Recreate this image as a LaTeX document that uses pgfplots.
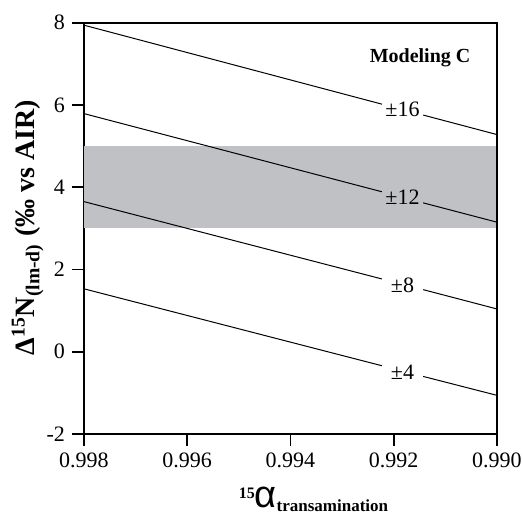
\documentclass[border=0pt]{standalone}
\usepackage{fontspec}
\setmainfont{Liberation Serif}
\newfontfamily\sansgreek{Liberation Sans}
\usepackage{pgfplots}
\pgfplotsset{compat=1.18}
\definecolor{band}{RGB}{192,193,196}
\begin{document}
\begin{tikzpicture}
\path[use as bounding box] (-42pt,-40.5pt) rectangle (219.5pt,217pt);
\begin{axis}[
  scale only axis, width=206.5pt, height=205.65pt,
  x dir=reverse, xmin=0.990, xmax=0.998, ymin=-2, ymax=8,
  xtick={0.990,0.992,0.994,0.996,0.998},
  xticklabels={0.990,0.992,0.994,0.996,0.998},
  ytick={-2,0,2,4,6,8}, yticklabels={-2,0,2,4,6,8},
  tick align=outside, major tick length=6pt,
  xtick pos=left, ytick pos=left,
  tick style={line width=0.9pt, black},
  axis line style={line width=0.9pt},
  ticklabel style={font=\fontsize{11}{13}\selectfont},
  clip=false,
]
\addplot[fill=band, draw=none] coordinates {(0.998,3) (0.990,3) (0.990,5) (0.998,5)} -- cycle;
% +-16
\addplot[black, line width=0.5pt] coordinates {(0.998,7.94) (0.99223,6.02)};
\addplot[black, line width=0.5pt] coordinates {(0.99143,5.755) (0.990,5.28)};
% +-12
\addplot[black, line width=0.5pt] coordinates {(0.998,5.79) (0.99223,3.89)};
\addplot[black, line width=0.5pt] coordinates {(0.99143,3.62) (0.990,3.15)};
% +-8
\addplot[black, line width=0.5pt] coordinates {(0.998,3.65) (0.99223,1.77)};
\addplot[black, line width=0.5pt] coordinates {(0.99143,1.51) (0.990,1.04)};
% +-4
\addplot[black, line width=0.5pt] coordinates {(0.998,1.53) (0.99223,-0.34)};
\addplot[black, line width=0.5pt] coordinates {(0.99143,-0.60) (0.990,-1.06)};
\draw[line width=1pt] (axis cs:0.998,8) -- (axis cs:0.990,8);
\draw[line width=0.6pt] (axis cs:0.990,8) -- (axis cs:0.990,-2);
\node[font=\fontsize{11}{13}\selectfont] at (axis cs:0.99183,5.89) {±16};
\node[font=\fontsize{11}{13}\selectfont] at (axis cs:0.99183,3.75) {±12};
\node[font=\fontsize{11}{13}\selectfont] at (axis cs:0.99183,1.62) {±8};
\node[font=\fontsize{11}{13}\selectfont] at (axis cs:0.99183,-0.49) {±4};
\node[font=\bfseries\fontsize{10}{12}\selectfont] at (axis cs:0.99149,7.15) {Modeling C};
\node[anchor=base] at ([yshift=-36.5pt]axis cs:0.993555,-2)
  {{\bfseries\fontsize{8}{8}\selectfont\raisebox{1.15ex}{15}}{\sansgreek\fontsize{19}{19}\selectfont α}{\bfseries\fontsize{8.5}{9}\selectfont\raisebox{-0.6ex}{transamination}}};
\node[rotate=90, anchor=base, font=\bfseries\fontsize{14}{16}\selectfont] at ([xshift=-24.5pt]axis cs:0.998,3.02)
  {Δ\textsuperscript{15}N\textsubscript{(lm-d)} (‰ vs AIR)};
\end{axis}
\end{tikzpicture}
\end{document}
